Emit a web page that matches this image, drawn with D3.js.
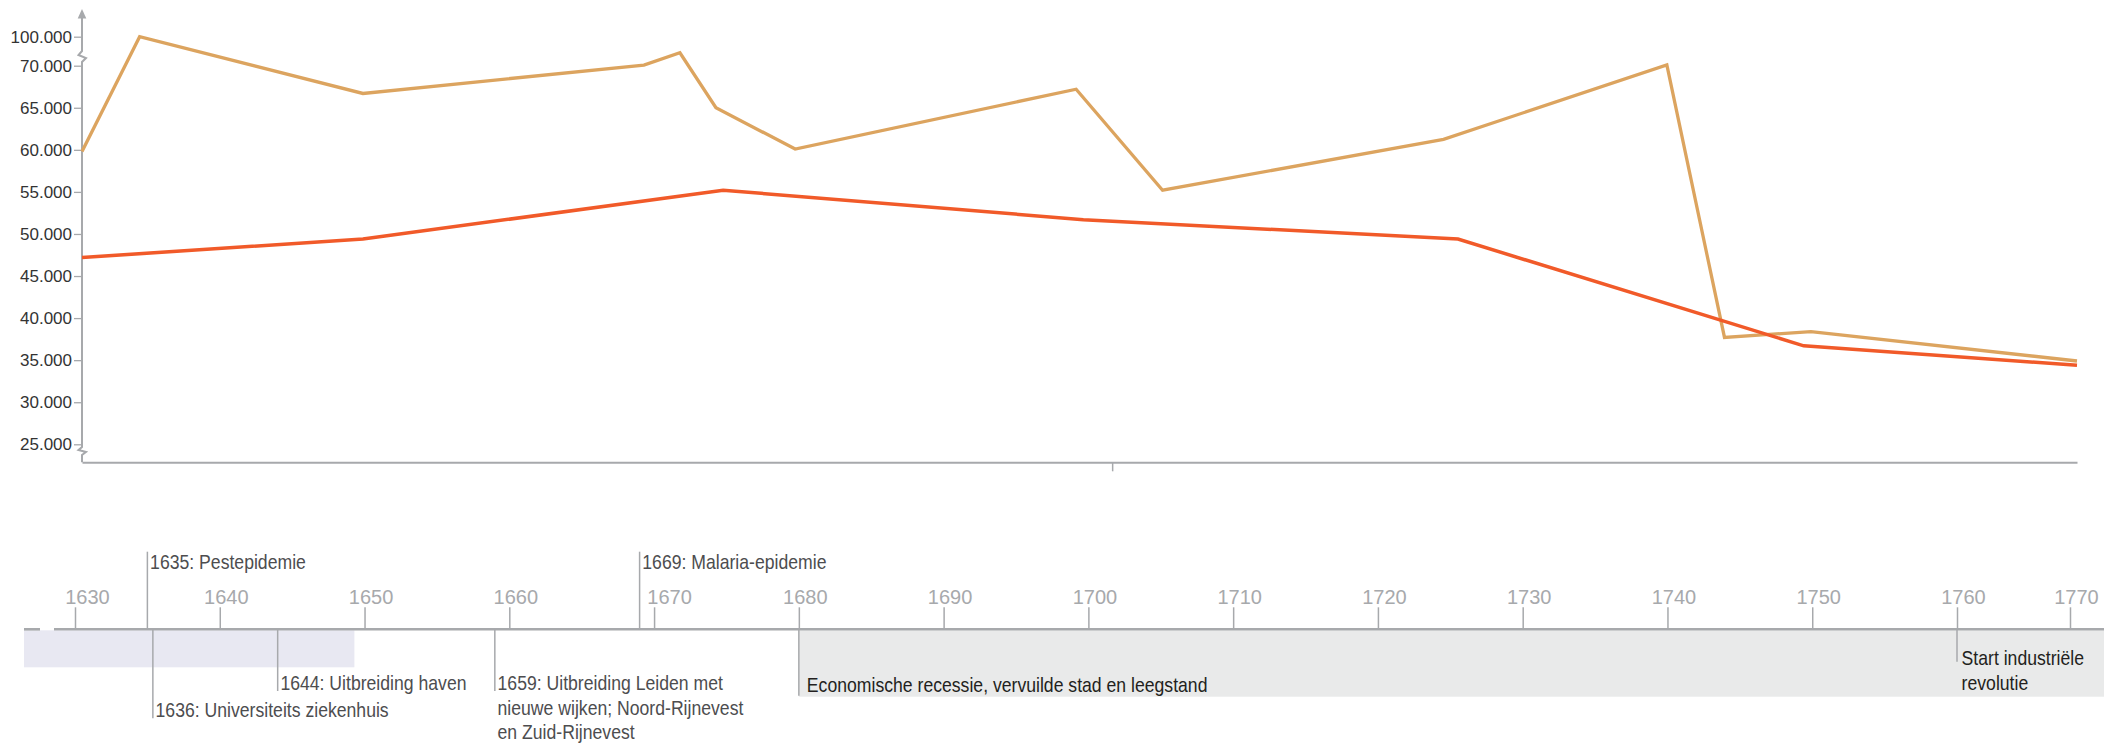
<!DOCTYPE html>
<html>
<head>
<meta charset="utf-8">
<script src="https://cdn.jsdelivr.net/npm/d3@7"></script>
<style>
  body { margin: 0; background: #fff; }
  svg { display: block; }
  .ylab text { font-family: "Liberation Sans", Arial, sans-serif; font-size: 17px; fill: #333; }
  .years text { font-family: "Liberation Sans", Arial, sans-serif; font-size: 20px; fill: #a7a9ac; }
  .event { font-family: "Liberation Sans", Arial, sans-serif; font-size: 20.5px; fill: #4d4d4f; }
</style>
</head>
<body>
<svg id="chart" width="2109" height="744"></svg>
<script>
// --- data ---
var tanYears  = [1630, 1634, 1649.5, 1669, 1671.5, 1674, 1679.5, 1699, 1705, 1724.5, 1740, 1744, 1750, 1770];
var tanValues = [59800, 100000, 66700, 70700, 83400, 65000, 60100, 67200, 55200, 61250, 70700, 37700, 38400, 34900];

var redYears  = [1630, 1649.5, 1674.5, 1699.5, 1725.5, 1749.5, 1770];
var redValues = [47200, 49400, 55200, 51700, 49400, 36700, 34400];

var yTicks = [25000, 30000, 35000, 40000, 45000, 50000, 55000, 60000, 65000, 70000, 100000];
var topTicks = [1701.5];
var timelineTicks = [1630, 1640, 1650, 1660, 1670, 1680, 1690, 1700, 1710, 1720, 1730, 1740, 1750, 1760, 1770];

var eventYears = [1635, 1636, 1644, 1659, 1669, 1680, 1760];
var eventTexts = [
  ["1635: Pestepidemie"],
  ["1636: Universiteits ziekenhuis"],
  ["1644: Uitbreiding haven"],
  ["1659: Uitbreiding Leiden met", "nieuwe wijken; Noord-Rijnevest", "en Zuid-Rijnevest"],
  ["1669: Malaria-epidemie"],
  ["Economische recessie, vervuilde stad en leegstand"],
  ["Start industriële", "revolutie"]
];

// periods on the timeline (null = runs to the edge of the timeline)
var periodFrom = [null, 1680];
var periodTo   = [1649.3, null];

// --- layout ---
var grey = "#a7a9ac";
var tanColor = "#dca45f", redColor = "#f15a29";

var svg = d3.select("#chart");

var x = d3.scaleLinear().domain([1630, 1760, 1770]).range([82, 1955, 2077]);
var y = d3.scaleLinear().domain([25000, 70000, 100000]).range([444.3, 65.7, 36.7]);
var baseY = 462.3;

var fmt = d3.formatLocale({decimal: ",", thousands: ".", grouping: [3], currency: ["€", ""]}).format(",d");

// y axis ticks and labels
var yAxis = d3.axisLeft(y).tickValues(yTicks).tickSize(8).tickPadding(2).tickFormat(fmt);
var gy = svg.append("g").attr("class", "ylab").attr("transform", "translate(82,0)").call(yAxis);
gy.select(".domain").remove();
gy.selectAll(".tick line").attr("stroke", grey).attr("stroke-width", 1.3);

// y axis line with two breaks and an arrow
var ax = 82;
svg.append("path")
  .attr("d", "M" + ax + "," + baseY + " L" + ax + ",455 L86,452 L78.5,450 L" + ax + ",447" +
             " L" + ax + ",62 L86,58 L78.5,55 L" + ax + ",51 L" + ax + ",17")
  .attr("fill", "none").attr("stroke", grey).attr("stroke-width", 2);
svg.append("path")
  .attr("d", "M" + ax + ",9 L" + (ax + 4.3) + ",18.5 L" + (ax - 4.3) + ",18.5 Z")
  .attr("fill", grey);

// x baseline of the top chart
var xAxis = d3.axisBottom(x).tickValues(topTicks).tickSize(9).tickSizeOuter(0).tickFormat("");
var gx = svg.append("g").attr("transform", "translate(0," + baseY + ")").call(xAxis);
gx.select(".domain").attr("stroke", grey).attr("stroke-width", 2);
gx.selectAll(".tick line").attr("stroke", grey).attr("stroke-width", 1.5);

// the two series
var line = d3.line().x(function(d) { return x(d[0]); }).y(function(d) { return y(d[1]); });

svg.append("path")
  .datum(d3.zip(tanYears, tanValues))
  .attr("d", line)
  .attr("fill", "none").attr("stroke", tanColor).attr("stroke-width", 3.3);

svg.append("path")
  .datum(d3.zip(redYears, redValues))
  .attr("d", line)
  .attr("fill", "none").attr("stroke", redColor).attr("stroke-width", 3.5);

// --- timeline ---
var tl = 629.3;           // y of the timeline axis
var tlLeft = 24, tlRight = 2104;
var xt = d3.scaleLinear().domain([1630, 1760, 1770]).range([75, 1957, 2070]);

var periodFill = ["#e8e8f2", "#e9eaea"];
var periodDepth = [37, 66.4];
svg.selectAll(".period")
  .data(periodFrom)
  .enter().append("rect")
  .attr("class", "period")
  .attr("x", function(d) { return d === null ? tlLeft : xt(d); })
  .attr("width", function(d, i) {
    var a = d === null ? tlLeft : xt(d);
    var b = periodTo[i] === null ? tlRight : xt(periodTo[i]);
    return b - a;
  })
  .attr("y", tl + 1)
  .attr("height", function(d, i) { return periodDepth[i]; })
  .attr("fill", function(d, i) { return periodFill[i]; });

// axis line with the broken start
svg.append("line").attr("x1", tlLeft).attr("x2", 40).attr("y1", tl).attr("y2", tl)
  .attr("stroke", grey).attr("stroke-width", 2.6);
svg.append("line").attr("x1", 54).attr("x2", tlRight).attr("y1", tl).attr("y2", tl)
  .attr("stroke", grey).attr("stroke-width", 2.6);

var labelShift = {1630: 12, 1670: 15};
var tAxis = d3.axisTop(xt).tickValues(timelineTicks).tickSize(22).tickPadding(3).tickFormat(d3.format("d"));
var gt = svg.append("g").attr("class", "years").attr("transform", "translate(0," + tl + ")").call(tAxis);
gt.select(".domain").remove();
gt.selectAll(".tick line").attr("stroke", grey).attr("stroke-width", 1.5);
gt.selectAll(".tick text").attr("dx", function(d) { return labelShift[d] || 6; });

// events: direction (-1 up, 1 down), line length, first baseline, text offset, nudge
var evDir   = [-1, 1, 1, 1, -1, 1, 1];
var evLen   = [77.6, 89, 61.7, 61.7, 77.6, 66.4, 32.4];
var evBase  = [-60, 88, 60.7, 60.7, -60, 62.4, 35.7];
var evDx    = [2.7, 2.7, 2.7, 2.7, 2.7, 8, 4.6];
var evNudge = [0, -9, 0, 0, 0, 0, 0];
var evColor = ["#4d4d4f", "#4d4d4f", "#4d4d4f", "#4d4d4f", "#4d4d4f", "#231f20", "#231f20"];
var lineH = 24.5;
var narrow = 0.86;        // the labels are set in a condensed face

var ev = svg.selectAll(".ev")
  .data(eventYears)
  .enter().append("g")
  .attr("class", "ev")
  .attr("transform", function(d, i) { return "translate(" + (xt(d) + evNudge[i]) + "," + tl + ")"; });

ev.append("line")
  .attr("x1", 0).attr("x2", 0)
  .attr("y1", 0).attr("y2", function(d, i) { return evDir[i] * evLen[i]; })
  .attr("stroke", grey).attr("stroke-width", 1.5);

ev.each(function(d, i) {
  var g = d3.select(this);
  eventTexts[i].forEach(function(t, k) {
    g.append("text")
      .attr("class", "event")
      .attr("transform", "translate(" + evDx[i] + "," + (evBase[i] + k * lineH) + ") scale(" + narrow + ",1)")
      .style("fill", evColor[i])
      .text(t);
  });
});
</script>
</body>
</html>
